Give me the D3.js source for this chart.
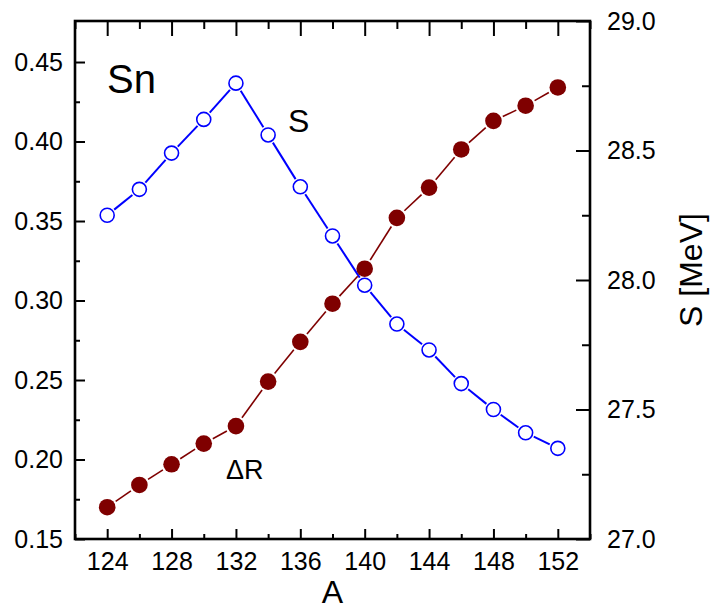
<!DOCTYPE html>
<html>
<head>
<meta charset="utf-8">
<script src="https://cdn.jsdelivr.net/npm/d3@7"></script>
<style>
  html, body { margin: 0; padding: 0; background: #fff; }
  svg { display: block; font-family: "Liberation Sans", Arial, sans-serif; }
</style>
</head>
<body>
<svg id="chart" width="710" height="610"></svg>
<script>
// Mass numbers of the Sn isotopes
const massNumbers = [124, 126, 128, 130, 132, 134, 136, 138, 140, 142, 144, 146, 148, 150, 152];
// Neutron skin thickness ΔR (left axis)
const deltaR = [0.170, 0.184, 0.197, 0.210, 0.221, 0.249, 0.274, 0.298, 0.320, 0.352, 0.371, 0.395, 0.413, 0.4225, 0.434];
// Symmetry energy S in MeV (right axis)
const symEnergy = [28.25, 28.35, 28.49, 28.62, 28.76, 28.56, 28.36, 28.17, 27.98, 27.83, 27.73, 27.60, 27.50, 27.41, 27.35];

// Tick values
const xMajorTicks = [124, 128, 132, 136, 140, 144, 148, 152];
const xMinorTicks = [122, 126, 130, 134, 138, 142, 146, 150, 154];
const leftMajorTicks = [0.15, 0.20, 0.25, 0.30, 0.35, 0.40, 0.45];
const leftMinorTicks = [0.175, 0.225, 0.275, 0.325, 0.375, 0.425];
const rightMajorTicks = [27.0, 27.5, 28.0, 28.5, 29.0];
const rightMinorTicks = [27.25, 27.75, 28.25, 28.75];

const frame = { left: 75, right: 590, top: 21, bottom: 539 };
const svg = d3.select("#chart");

const x = d3.scaleLinear().domain([122, 154]).range([frame.left, frame.right]);
const yL = d3.scaleLinear().domain([0.15, 0.4758]).range([frame.bottom, frame.top]);
const yR = d3.scaleLinear().domain([27, 29]).range([frame.bottom, frame.top]);

const tickFont = 25;

function styleAxis(g, width) {
  g.select(".domain").remove();
  g.selectAll(".tick line").attr("stroke", "#000").attr("stroke-width", width);
  g.selectAll(".tick text").attr("font-size", tickFont).attr("fill", "#000")
    .attr("font-family", "Liberation Sans, Arial, sans-serif");
}

// Bottom axis
svg.append("g").attr("transform", `translate(0,${frame.bottom})`)
  .call(d3.axisBottom(x).tickValues(xMajorTicks).tickSizeInner(-10).tickSizeOuter(0).tickPadding(13).tickFormat(d3.format("d")))
  .call(g => styleAxis(g, 2));
svg.append("g").attr("transform", `translate(0,${frame.bottom})`)
  .call(d3.axisBottom(x).tickValues(xMinorTicks).tickSizeInner(-5).tickSizeOuter(0).tickFormat(""))
  .call(g => styleAxis(g, 2));

// Top axis (ticks only)
svg.append("g").attr("transform", `translate(0,${frame.top})`)
  .call(d3.axisTop(x).tickValues(xMajorTicks).tickSizeInner(-15).tickSizeOuter(0).tickFormat(""))
  .call(g => styleAxis(g, 2));
svg.append("g").attr("transform", `translate(0,${frame.top})`)
  .call(d3.axisTop(x).tickValues(xMinorTicks).tickSizeInner(-8).tickSizeOuter(0).tickFormat(""))
  .call(g => styleAxis(g, 2));

// Left axis
svg.append("g").attr("transform", `translate(${frame.left},0)`)
  .call(d3.axisLeft(yL).tickValues(leftMajorTicks).tickSizeInner(-10).tickSizeOuter(0).tickPadding(12).tickFormat(d3.format(".2f")))
  .call(g => styleAxis(g, 2));
svg.append("g").attr("transform", `translate(${frame.left},0)`)
  .call(d3.axisLeft(yL).tickValues(leftMinorTicks).tickSizeInner(-5).tickSizeOuter(0).tickFormat(""))
  .call(g => styleAxis(g, 2));

// Right axis
svg.append("g").attr("transform", `translate(${frame.right},0)`)
  .call(d3.axisRight(yR).tickValues(rightMajorTicks).tickSizeInner(-14).tickSizeOuter(0).tickPadding(17).tickFormat(d3.format(".1f")))
  .call(g => styleAxis(g, 2));
svg.append("g").attr("transform", `translate(${frame.right},0)`)
  .call(d3.axisRight(yR).tickValues(rightMinorTicks).tickSizeInner(-8).tickSizeOuter(0).tickFormat(""))
  .call(g => styleAxis(g, 2));

// Plot frame
svg.append("rect")
  .attr("x", frame.left).attr("y", frame.top)
  .attr("width", frame.right - frame.left).attr("height", frame.bottom - frame.top)
  .attr("fill", "none").attr("stroke", "#000").attr("stroke-width", 2.6);

// Connecting line with a small gap before each symbol
function drawSeries(values, yScale, color, lineWidth, r, filled) {
  const pts = massNumbers.map((a, i) => [x(a), yScale(values[i])]);
  const gap = r + 2;
  const segs = d3.pairs(pts).map(([p, q]) => {
    const dx = q[0] - p[0], dy = q[1] - p[1];
    const len = Math.hypot(dx, dy);
    const ux = dx / len, uy = dy / len;
    return [[p[0] + ux * gap, p[1] + uy * gap], [q[0] - ux * gap, q[1] - uy * gap]];
  });
  const g = svg.append("g");
  g.selectAll("line").data(segs).join("line")
    .attr("x1", d => d[0][0]).attr("y1", d => d[0][1])
    .attr("x2", d => d[1][0]).attr("y2", d => d[1][1])
    .attr("stroke", color).attr("stroke-width", lineWidth);
  g.selectAll("circle").data(pts).join("circle")
    .attr("cx", d => d[0]).attr("cy", d => d[1]).attr("r", r)
    .attr("fill", filled ? color : "#fff")
    .attr("stroke", color).attr("stroke-width", filled ? 0 : 1.6);
}

drawSeries(symEnergy, yR, "#0000ff", 2, 7, false);
drawSeries(deltaR, yL, "#7f0000", 1.6, 8.3, true);

// Annotations
svg.append("text").attr("x", 107).attr("y", 93).attr("font-size", 40).text("Sn");
svg.append("text").attr("x", 288).attr("y", 132).attr("font-size", 32).text("S");
svg.append("text").attr("x", 226).attr("y", 479).attr("font-size", 27).text("ΔR");

// Axis titles
svg.append("text").attr("x", (frame.left + frame.right) / 2).attr("y", 603)
  .attr("text-anchor", "middle").attr("font-size", 32).text("A");
svg.append("text").attr("transform", "translate(702,270) rotate(-90)")
  .attr("text-anchor", "middle").attr("font-size", 32).text("S [MeV]");
</script>
</body>
</html>
